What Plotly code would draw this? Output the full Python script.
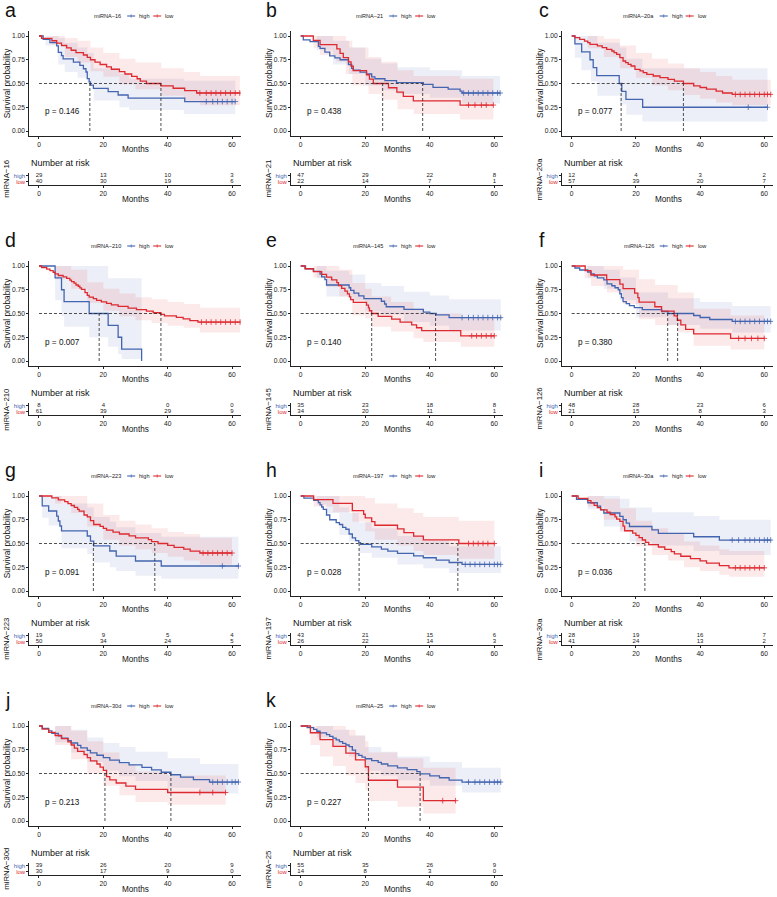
import plotly.graph_objects as go

W, H = 777, 897
BLUE = "#4365B0"
RED = "#DD2A30"
BLUE_F = "rgba(67,101,176,0.10)"
RED_F = "rgba(221,42,48,0.10)"
FONT = "Liberation Sans, Arial, sans-serif"

TIME_TICKS = [0, 20, 40, 60]
SURV_TICKS = [0, 0.25, 0.5, 0.75, 1.0]
SURV_LABELS = ["0.00", "0.25", "0.50", "0.75", "1.00"]

# ---------------- panel a : miRNA-16 ----------------
A_HI_T = [0, 1.3, 3.4, 5.5, 6, 7, 7.5, 10.7, 12.7, 13.8, 14.6, 15, 15.6, 16, 16.9, 21.5, 24.6, 27.7, 45.3]
A_HI_S = [1.0, 0.966, 0.931, 0.897, 0.828, 0.793, 0.759, 0.724, 0.690, 0.655, 0.621, 0.552, 0.517, 0.483, 0.448, 0.414, 0.379, 0.345, 0.310]
A_HI_END = 61
A_HI_CENS = [52, 54, 55.5, 57, 58.5, 60, 61]
A_HI_BT = [0, 2, 6, 8, 12, 15, 17, 25, 28, 45, 61]
A_HI_LO = [1.0, 0.90, 0.70, 0.62, 0.56, 0.50, 0.32, 0.25, 0.22, 0.18, 0.18]
A_HI_UP = [1.0, 1.0, 0.98, 0.93, 0.88, 0.82, 0.66, 0.60, 0.55, 0.53, 0.53]
A_LO_T = [0, 0.8, 4, 5.5, 7, 8.6, 10, 11.5, 13.8, 15, 16, 17.4, 19, 21, 22.5, 25, 26.7, 28.8, 30.5, 31.5, 33.4, 37.9, 41.7, 45.3, 49]
A_LO_S = [1.0, 0.975, 0.95, 0.925, 0.90, 0.875, 0.85, 0.825, 0.80, 0.775, 0.75, 0.725, 0.70, 0.675, 0.65, 0.625, 0.60, 0.575, 0.55, 0.525, 0.50, 0.475, 0.45, 0.425, 0.40]
A_LO_END = 62.4
A_LO_CENS = [50, 52, 53.5, 55, 56.5, 58, 59.5, 61, 62.4]
A_LO_BT = [0, 4, 8, 12, 16, 20, 25, 30, 38, 45, 50, 62.4]
A_LO_LO = [1.0, 0.91, 0.78, 0.72, 0.63, 0.57, 0.49, 0.44, 0.37, 0.32, 0.27, 0.27]
A_LO_UP = [1.0, 1.0, 0.98, 0.95, 0.88, 0.82, 0.76, 0.72, 0.66, 0.62, 0.58, 0.58]
A_RISK_HI = [29, 13, 10, 3]
A_RISK_LO = [40, 30, 19, 6]
A_MED = [15.8, 37.9]

# ---------------- panel b : miRNA-21 ----------------
B_HI_T = [0, 0.8, 2.9, 5.5, 6, 7.5, 9, 10.6, 12.2, 14.8, 15.8, 16.3, 18.4, 20.4, 22, 23, 26.1, 29.7, 38, 41, 45.7, 49.4, 50]
B_HI_S = [1.0, 0.96, 0.94, 0.89, 0.87, 0.83, 0.79, 0.77, 0.75, 0.70, 0.66, 0.64, 0.62, 0.60, 0.57, 0.55, 0.53, 0.51, 0.49, 0.46, 0.44, 0.42, 0.40]
B_HI_END = 61.8
B_HI_CENS = [50.5, 52, 53.5, 55, 56.5, 58, 59.5, 61, 61.8]
B_HI_BT = [0, 5, 10, 15, 20, 25, 30, 40, 50, 61.8]
B_HI_LO = [1.0, 0.85, 0.70, 0.60, 0.48, 0.43, 0.39, 0.35, 0.29, 0.28]
B_HI_UP = [1.0, 1.0, 0.95, 0.88, 0.76, 0.71, 0.67, 0.64, 0.58, 0.57]
B_LO_T = [0, 3.9, 6, 11.2, 12.2, 13.2, 14.8, 15.6, 16.3, 20.4, 21.3, 22.5, 27.2, 29.8, 31.8, 34.9, 49.4]
B_LO_S = [1.0, 0.955, 0.909, 0.864, 0.818, 0.773, 0.727, 0.682, 0.636, 0.591, 0.545, 0.50, 0.455, 0.41, 0.364, 0.318, 0.273]
B_LO_END = 59.7
B_LO_CENS = [52, 54, 56, 57.5, 59.7]
B_LO_BT = [0, 4, 6, 11, 14, 16, 21, 25, 30, 35, 49.4, 59.7]
B_LO_LO = [1.0, 0.87, 0.80, 0.73, 0.60, 0.48, 0.39, 0.33, 0.23, 0.18, 0.12, 0.12]
B_LO_UP = [1.0, 1.0, 1.0, 1.0, 0.95, 0.88, 0.78, 0.73, 0.64, 0.58, 0.55, 0.55]
B_RISK_HI = [47, 29, 22, 8]
B_RISK_LO = [22, 14, 7, 1]
B_MED = [37.8, 25.4]

# ---------------- panel c : miRNA-20a ----------------
C_HI_T = [0, 1, 3.1, 5.7, 6.7, 7.8, 14.8, 15.6, 16.9, 22.1]
C_HI_S = [1.0, 0.917, 0.833, 0.75, 0.667, 0.583, 0.50, 0.417, 0.333, 0.25]
C_HI_END = 61
C_HI_CENS = [55, 61]
C_HI_BT = [0, 1, 3, 6, 8, 15, 17, 22, 61]
C_HI_LO = [1.0, 0.77, 0.64, 0.52, 0.37, 0.28, 0.17, 0.10, 0.10]
C_HI_UP = [1.0, 1.0, 1.0, 1.0, 0.93, 0.88, 0.76, 0.66, 0.66]
C_LO_T = [0, 1, 2.5, 4, 5, 5.7, 8, 9.5, 10.9, 12.5, 13.2, 14, 15, 16, 16.8, 17.6, 18.5, 19.7, 21.3, 22.3, 23.4, 25.4, 27.5, 30, 32, 34.8, 38, 40, 42, 45, 47, 50]
C_LO_S = [1.0, 0.982, 0.965, 0.947, 0.93, 0.912, 0.895, 0.877, 0.86, 0.842, 0.825, 0.807, 0.772, 0.737, 0.719, 0.702, 0.684, 0.649, 0.632, 0.614, 0.596, 0.579, 0.561, 0.544, 0.526, 0.50, 0.475, 0.458, 0.44, 0.42, 0.40, 0.385]
C_LO_END = 62
C_LO_CENS = [51, 52.5, 54, 55.5, 57, 58.5, 60, 61, 62]
C_LO_BT = [0, 5, 10, 15, 20, 25, 30, 35, 40, 45, 50, 62]
C_LO_LO = [1.0, 0.87, 0.78, 0.66, 0.56, 0.48, 0.43, 0.38, 0.34, 0.30, 0.27, 0.27]
C_LO_UP = [1.0, 1.0, 0.97, 0.90, 0.82, 0.76, 0.71, 0.66, 0.62, 0.58, 0.54, 0.54]
C_RISK_HI = [12, 4, 3, 2]
C_RISK_LO = [57, 39, 20, 7]
C_MED = [15.4, 34.8]

# ---------------- panel d : miRNA-210 ----------------
D_HI_T = [0, 5, 7, 7.8, 15.6, 21.5, 24.6, 25.7, 31.9]
D_HI_S = [1.0, 0.875, 0.75, 0.625, 0.5, 0.375, 0.25, 0.125, 0.0]
D_HI_END = 31.9
D_HI_CENS = []
D_HI_BT = [0, 5, 7, 7.8, 15.6, 21.5, 24.6, 25.7, 31.9]
D_HI_LO = [1.0, 0.64, 0.47, 0.36, 0.25, 0.15, 0.07, 0.02, 0.02]
D_HI_UP = [1.0, 1.0, 1.0, 1.0, 1.0, 0.87, 0.87, 0.87, 0.87]
D_LO_T = [0, 0.8, 2.4, 3.4, 4.4, 5, 6, 7.5, 8.6, 9.6, 10.1, 10.9, 11.5, 12.2, 12.7, 13.2, 14.3, 15, 15.6, 16.9, 17.9, 19.4, 21, 22.5, 24.6, 27.7, 30.3, 33.4, 35.5, 37.9, 39, 42.7, 44.8, 46.9, 49.4]
D_LO_S = [1.0, 0.984, 0.967, 0.951, 0.934, 0.918, 0.90, 0.885, 0.869, 0.852, 0.836, 0.82, 0.80, 0.787, 0.77, 0.754, 0.72, 0.69, 0.672, 0.656, 0.639, 0.623, 0.607, 0.59, 0.574, 0.557, 0.541, 0.525, 0.508, 0.49, 0.475, 0.46, 0.443, 0.426, 0.41]
D_LO_END = 62.5
D_LO_CENS = [50.5, 52, 53.5, 55, 56.5, 58, 59.5, 61, 62.5]
D_LO_BT = [0, 5, 10, 15, 20, 25, 30, 35, 40, 45, 50, 62.5]
D_LO_LO = [1.0, 0.86, 0.76, 0.61, 0.53, 0.47, 0.43, 0.40, 0.37, 0.35, 0.30, 0.30]
D_LO_UP = [1.0, 1.0, 0.96, 0.83, 0.76, 0.71, 0.67, 0.65, 0.62, 0.60, 0.56, 0.56]
D_RISK_HI = [8, 4, 0, 0]
D_RISK_LO = [61, 39, 29, 9]
D_MED = [18.7, 37.9]

# ---------------- panel e : miRNA-145 ----------------
E_HI_T = [0, 1.5, 4, 6, 6.5, 7.5, 8, 15, 15.5, 16.5, 18, 19.6, 25, 26, 26.5, 32, 38, 40, 42, 46]
E_HI_S = [1.0, 0.971, 0.943, 0.914, 0.886, 0.857, 0.80, 0.771, 0.743, 0.714, 0.686, 0.657, 0.629, 0.60, 0.571, 0.543, 0.514, 0.50, 0.486, 0.457]
E_HI_END = 62
E_HI_CENS = [50, 52, 53.5, 55, 56.5, 58, 59.5, 61, 62]
E_HI_BT = [0, 5, 8, 15, 20, 25, 32, 40, 46, 62]
E_HI_LO = [1.0, 0.87, 0.68, 0.64, 0.52, 0.49, 0.41, 0.37, 0.32, 0.32]
E_HI_UP = [1.0, 1.0, 0.95, 0.91, 0.82, 0.79, 0.73, 0.69, 0.65, 0.65]
E_LO_T = [0, 1.3, 3.9, 6.5, 8, 9.6, 11.2, 11.7, 12.7, 13.7, 14.5, 15.1, 15.5, 16.3, 20.4, 21, 21.3, 22, 24, 28.2, 30.8, 34.4, 35.9, 37.5, 49.6]
E_LO_S = [1.0, 0.971, 0.941, 0.912, 0.882, 0.853, 0.824, 0.794, 0.765, 0.735, 0.706, 0.676, 0.647, 0.618, 0.588, 0.559, 0.529, 0.50, 0.47, 0.44, 0.41, 0.38, 0.35, 0.32, 0.265]
E_LO_END = 60
E_LO_CENS = [53, 54.5, 56, 57.5, 59, 60]
E_LO_BT = [0, 4, 8, 12, 16, 20, 22, 28, 35, 38, 49.6, 60]
E_LO_LO = [1.0, 0.88, 0.78, 0.68, 0.48, 0.45, 0.36, 0.31, 0.24, 0.20, 0.15, 0.15]
E_LO_UP = [1.0, 1.0, 1.0, 0.96, 0.82, 0.76, 0.68, 0.62, 0.55, 0.50, 0.45, 0.45]
E_RISK_HI = [35, 23, 18, 8]
E_RISK_LO = [34, 20, 11, 1]
E_MED = [41.8, 22.0]

# ---------------- panel f : miRNA-126 ----------------
F_HI_T = [0, 1, 2.5, 5, 6, 7, 8, 10, 11, 12.5, 13.5, 14.5, 15, 15.5, 16, 17, 18, 19.5, 22, 28, 30, 38, 40, 43, 50]
F_HI_S = [1.0, 0.979, 0.958, 0.937, 0.917, 0.896, 0.875, 0.854, 0.812, 0.792, 0.771, 0.75, 0.708, 0.667, 0.625, 0.604, 0.583, 0.562, 0.541, 0.521, 0.50, 0.479, 0.458, 0.437, 0.417]
F_HI_END = 62
F_HI_CENS = [51, 52.5, 54, 55.5, 57, 58.5, 60, 61, 62]
F_HI_BT = [0, 5, 10, 15, 20, 30, 40, 50, 62]
F_HI_LO = [1.0, 0.88, 0.76, 0.64, 0.46, 0.38, 0.34, 0.30, 0.30]
F_HI_UP = [1.0, 1.0, 0.96, 0.88, 0.72, 0.66, 0.62, 0.58, 0.58]
F_LO_T = [0, 4.2, 6, 10.9, 15, 16, 19.6, 20.6, 21, 25.9, 28, 31.9, 32.9, 34, 35.5, 38, 49.5]
F_LO_S = [1.0, 0.952, 0.905, 0.857, 0.81, 0.762, 0.714, 0.667, 0.619, 0.571, 0.524, 0.476, 0.429, 0.381, 0.333, 0.286, 0.238]
F_LO_END = 60
F_LO_CENS = [52, 54, 56, 58, 60]
F_LO_BT = [0, 4, 6, 11, 16, 21, 26, 33, 38, 49.5, 60]
F_LO_LO = [1.0, 0.87, 0.79, 0.72, 0.60, 0.44, 0.38, 0.30, 0.16, 0.12, 0.12]
F_LO_UP = [1.0, 1.0, 1.0, 1.0, 0.96, 0.86, 0.80, 0.72, 0.55, 0.48, 0.48]
F_RISK_HI = [48, 28, 23, 6]
F_RISK_LO = [21, 15, 8, 3]
F_MED = [29.9, 33.0]

# ---------------- panel g : miRNA-223 ----------------
G_HI_T = [0, 1, 3, 5.5, 6, 6.5, 7, 15, 16, 17, 22, 24, 30, 38]
G_HI_S = [1.0, 0.895, 0.842, 0.789, 0.737, 0.684, 0.632, 0.579, 0.526, 0.474, 0.421, 0.368, 0.316, 0.263]
G_HI_END = 62
G_HI_CENS = [57, 62]
G_HI_BT = [0, 1, 3, 7, 15, 17, 22, 24, 30, 38, 62]
G_HI_LO = [1.0, 0.77, 0.69, 0.45, 0.39, 0.30, 0.25, 0.21, 0.16, 0.13, 0.13]
G_HI_UP = [1.0, 1.0, 1.0, 0.92, 0.88, 0.78, 0.73, 0.67, 0.61, 0.57, 0.57]
G_LO_T = [0, 4, 6, 8, 9, 10, 11, 12, 12.5, 14, 15, 16, 17, 19, 20, 21, 23, 25, 28, 30, 34, 35, 37, 40, 42, 45, 47, 50]
G_LO_S = [1.0, 0.98, 0.96, 0.94, 0.92, 0.90, 0.88, 0.86, 0.84, 0.80, 0.78, 0.74, 0.70, 0.68, 0.66, 0.64, 0.62, 0.60, 0.58, 0.56, 0.54, 0.52, 0.50, 0.48, 0.46, 0.44, 0.42, 0.40]
G_LO_END = 60
G_LO_CENS = [51, 52.5, 54, 55.5, 57, 58.5, 60]
G_LO_BT = [0, 5, 10, 15, 20, 25, 30, 35, 40, 45, 50, 60]
G_LO_LO = [1.0, 0.92, 0.82, 0.68, 0.54, 0.48, 0.44, 0.40, 0.36, 0.32, 0.28, 0.28]
G_LO_UP = [1.0, 1.0, 1.0, 0.92, 0.80, 0.74, 0.70, 0.66, 0.62, 0.60, 0.56, 0.56]
G_RISK_HI = [19, 9, 5, 4]
G_RISK_LO = [50, 34, 24, 5]
G_MED = [16.9, 36.0]

# ---------------- panel h : miRNA-197 ----------------
H_HI_T = [0, 1, 4, 5.5, 6, 6.5, 7, 8, 9, 11, 12, 13, 14, 15, 16, 17, 18, 18.5, 22, 25, 27, 30, 35, 38, 42, 46, 50]
H_HI_S = [1.0, 0.977, 0.953, 0.93, 0.907, 0.884, 0.86, 0.80, 0.75, 0.72, 0.70, 0.67, 0.65, 0.60, 0.56, 0.53, 0.51, 0.49, 0.465, 0.44, 0.42, 0.395, 0.37, 0.35, 0.325, 0.30, 0.28]
H_HI_END = 62
H_HI_CENS = [51, 52.5, 54, 55.5, 57, 58.5, 60, 61, 62]
H_HI_BT = [0, 5, 8, 12, 15, 18, 22, 30, 38, 46, 62]
H_HI_LO = [1.0, 0.91, 0.82, 0.59, 0.52, 0.40, 0.35, 0.28, 0.24, 0.19, 0.17]
H_HI_UP = [1.0, 1.0, 1.0, 0.88, 0.82, 0.72, 0.66, 0.58, 0.53, 0.47, 0.45]
H_LO_T = [0, 4, 10, 16, 19.5, 20, 22, 23, 30, 32, 35, 38, 49]
H_LO_S = [1.0, 0.962, 0.923, 0.846, 0.808, 0.769, 0.731, 0.692, 0.654, 0.615, 0.577, 0.538, 0.50]
H_LO_END = 60
H_LO_CENS = [52, 53.5, 55, 56.5, 58, 60]
H_LO_BT = [0, 4, 10, 16, 20, 23, 30, 35, 38, 49, 60]
H_LO_LO = [1.0, 0.89, 0.83, 0.73, 0.63, 0.54, 0.48, 0.42, 0.38, 0.34, 0.34]
H_LO_UP = [1.0, 1.0, 1.0, 1.0, 0.98, 0.92, 0.87, 0.82, 0.78, 0.74, 0.74]
H_RISK_HI = [43, 21, 15, 6]
H_RISK_LO = [26, 22, 14, 3]
H_MED = [18.1, 48.7]

# ---------------- panel i : miRNA-30a ----------------
I_HI_T = [0, 1.5, 5, 8, 9, 10, 15, 16, 17, 18, 25, 27, 38, 46]
I_HI_S = [1.0, 0.964, 0.929, 0.893, 0.857, 0.821, 0.786, 0.75, 0.714, 0.679, 0.643, 0.607, 0.571, 0.536]
I_HI_END = 62
I_HI_CENS = [50, 52, 54, 55.5, 57, 58.5, 60, 61, 62]
I_HI_BT = [0, 5, 10, 15, 18, 25, 38, 46, 62]
I_HI_LO = [1.0, 0.86, 0.68, 0.64, 0.52, 0.48, 0.42, 0.38, 0.38]
I_HI_UP = [1.0, 1.0, 1.0, 0.97, 0.88, 0.83, 0.79, 0.75, 0.75]
I_LO_T = [0, 2, 5, 6, 7, 8, 9, 11, 12, 13.5, 14, 15, 16, 16.5, 19, 20, 21, 22, 23, 24, 27, 29, 31, 32, 34, 37, 40, 42, 46, 49]
I_LO_S = [1.0, 0.976, 0.951, 0.927, 0.902, 0.878, 0.854, 0.829, 0.805, 0.78, 0.756, 0.732, 0.683, 0.634, 0.61, 0.585, 0.561, 0.537, 0.512, 0.488, 0.463, 0.439, 0.415, 0.39, 0.366, 0.341, 0.317, 0.293, 0.268, 0.244]
I_LO_END = 60
I_LO_CENS = [51, 52.5, 54, 55.5, 57, 58.5, 60]
I_LO_BT = [0, 5, 10, 15, 20, 25, 30, 35, 40, 46, 49, 60]
I_LO_LO = [1.0, 0.89, 0.75, 0.62, 0.47, 0.38, 0.32, 0.25, 0.21, 0.17, 0.15, 0.15]
I_LO_UP = [1.0, 1.0, 0.97, 0.87, 0.74, 0.66, 0.60, 0.52, 0.48, 0.44, 0.42, 0.42]
I_RISK_HI = [28, 19, 16, 7]
I_RISK_LO = [41, 24, 13, 2]
I_MED = [22.8]

# ---------------- panel j : miRNA-30d ----------------
J_HI_T = [0, 1, 3, 4, 6, 7, 9, 10, 12, 13, 15, 16, 18, 20, 22, 25, 28, 32, 35, 38, 41, 44, 48, 53]
J_HI_S = [1.0, 0.974, 0.949, 0.923, 0.897, 0.872, 0.846, 0.821, 0.795, 0.769, 0.744, 0.718, 0.692, 0.667, 0.641, 0.615, 0.59, 0.564, 0.538, 0.513, 0.487, 0.462, 0.436, 0.41]
J_HI_END = 62
J_HI_CENS = [54, 55.5, 57, 58.5, 60, 61, 62]
J_HI_BT = [0, 5, 10, 15, 20, 25, 30, 40, 50, 62]
J_HI_LO = [1.0, 0.83, 0.72, 0.62, 0.53, 0.47, 0.42, 0.35, 0.29, 0.27]
J_HI_UP = [1.0, 1.0, 0.96, 0.88, 0.82, 0.78, 0.73, 0.66, 0.60, 0.58]
J_LO_T = [0, 1, 3, 5, 7, 9, 10, 11, 12, 14, 15, 16, 18, 19, 20, 21, 22, 24, 27, 30, 40]
J_LO_S = [1.0, 0.967, 0.933, 0.90, 0.867, 0.833, 0.80, 0.767, 0.733, 0.70, 0.667, 0.633, 0.60, 0.567, 0.533, 0.467, 0.433, 0.40, 0.367, 0.333, 0.30]
J_LO_END = 58
J_LO_CENS = [50, 54, 58]
J_LO_BT = [0, 5, 10, 15, 20, 25, 30, 40, 58]
J_LO_LO = [1.0, 0.80, 0.65, 0.50, 0.37, 0.27, 0.20, 0.17, 0.17]
J_LO_UP = [1.0, 1.0, 0.95, 0.84, 0.72, 0.60, 0.52, 0.48, 0.48]
J_RISK_HI = [39, 26, 20, 9]
J_RISK_LO = [30, 17, 9, 0]
J_MED = [41.0, 20.5]

# ---------------- panel k : miRNA-25 ----------------
K_HI_T = [0, 2, 4, 5, 6, 8, 9, 10, 11, 12, 13, 14, 15, 16, 17, 18, 19, 20, 22, 24, 25, 27, 30, 33, 36, 37, 40, 43, 46, 50]
K_HI_S = [1.0, 0.982, 0.964, 0.945, 0.927, 0.909, 0.891, 0.873, 0.855, 0.836, 0.818, 0.80, 0.782, 0.745, 0.709, 0.691, 0.673, 0.655, 0.636, 0.618, 0.60, 0.58, 0.56, 0.54, 0.52, 0.495, 0.475, 0.455, 0.43, 0.41]
K_HI_END = 62
K_HI_CENS = [52, 54, 55.5, 57, 58.5, 60, 61, 62]
K_HI_BT = [0, 5, 10, 15, 20, 25, 30, 40, 50, 62]
K_HI_LO = [1.0, 0.88, 0.78, 0.68, 0.53, 0.48, 0.43, 0.37, 0.30, 0.28]
K_HI_UP = [1.0, 1.0, 0.96, 0.90, 0.78, 0.73, 0.68, 0.62, 0.56, 0.54]
K_LO_T = [0, 3, 6, 10, 14, 17, 20, 21, 30, 38]
K_LO_S = [1.0, 0.929, 0.857, 0.786, 0.714, 0.643, 0.571, 0.429, 0.357, 0.214]
K_LO_END = 48
K_LO_CENS = [44, 48]
K_LO_BT = [0, 3, 6, 10, 14, 17, 20, 21, 30, 38, 48]
K_LO_LO = [1.0, 0.80, 0.68, 0.58, 0.48, 0.40, 0.33, 0.21, 0.15, 0.08, 0.08]
K_LO_UP = [1.0, 1.0, 1.0, 1.0, 0.96, 0.90, 0.84, 0.72, 0.66, 0.56, 0.56]
K_RISK_HI = [55, 35, 26, 9]
K_RISK_LO = [14, 8, 3, 0]
K_MED = [37.0, 21.0]

LETTERS = ["a", "b", "c", "d", "e", "f", "g", "h", "i", "j", "k"]
GENES = ["miRNA\u221216", "miRNA\u221221", "miRNA\u221220a", "miRNA\u2212210", "miRNA\u2212145",
         "miRNA\u2212126", "miRNA\u2212223", "miRNA\u2212197", "miRNA\u221230a", "miRNA\u221230d",
         "miRNA\u221225"]
PVALUES = ["0.146", "0.438", "0.077", "0.007", "0.140", "0.380", "0.091", "0.028", "0.036", "0.213", "0.227"]
GROUPS = ["high", "low"]

G = globals()
PANELS = []
for L in "ABCDEFGHIJK":
    PANELS.append(dict(
        hi=[G[f"{L}_HI_{k}"] for k in ("T", "S", "END", "CENS", "BT", "LO", "UP")],
        lo=[G[f"{L}_LO_{k}"] for k in ("T", "S", "END", "CENS", "BT", "LO", "UP")],
        risk_hi=G[f"{L}_RISK_HI"], risk_lo=G[f"{L}_RISK_LO"], med=G[f"{L}_MED"]))

# ---------------- layout geometry (pixels) ----------------
COL_ZERO = [39.0, 300.7, 571.7]
COL_PPM = [3.217, 3.227, 3.21]
XR = [-3.0, 62.8]
ROW_STEP = 230.0


def fx(px):
    return px / W


def fy(py):
    return 1 - py / H


def surv_at(T, S, t):
    v = S[0]
    for ti, si in zip(T, S):
        if ti <= t:
            v = si
    return v


def note(text, x, y, size, xanchor="center", yanchor="middle", color="#111111", angle=0,
         xref="paper", yref="paper"):
    return dict(text=text, x=x, y=y, xref=xref, yref=yref, xanchor=xanchor, yanchor=yanchor,
                textangle=angle, showarrow=False, font=dict(family=FONT, size=size, color=color))


fig = go.Figure()
layout = {}
ann = []
shapes = []
axis_font = dict(family=FONT, size=6.7, color="#222222")
axis_style = dict(showline=True, linecolor="#222222", linewidth=0.9, ticks="outside", ticklen=2,
                  tickwidth=0.7, tickcolor="#222222", showgrid=False, zeroline=False)

for i, P in enumerate(PANELS):
    r, c = divmod(i, 3)
    off = ROW_STEP * r
    left = COL_ZERO[c] + XR[0] * COL_PPM[c]
    right = COL_ZERO[c] + XR[1] * COL_PPM[c]
    k = 2 * i + 1
    xm, ym = f"x{k}", f"y{k}"
    xr_, yr_ = f"x{k+1}", f"y{k+1}"
    common_x = dict(axis_style, range=XR, tickvals=TIME_TICKS, tickfont=axis_font,
                    domain=[fx(left), fx(right)])
    layout[f"xaxis{k}"] = dict(common_x, anchor=ym)
    layout[f"yaxis{k}"] = dict(axis_style, range=[-0.05, 1.05], tickvals=SURV_TICKS, ticktext=SURV_LABELS,
                               tickfont=axis_font, anchor=xm, domain=[fy(135.75 + off), fy(31.25 + off)])
    layout[f"xaxis{k+1}"] = dict(common_x, anchor=yr_)
    layout[f"yaxis{k+1}"] = dict(axis_style, range=[0.5, 2.5], tickvals=[1, 2],
                                 ticktext=[f"<span style='color:{RED}'>{GROUPS[1]}</span>",
                                           f"<span style='color:{BLUE}'>{GROUPS[0]}</span>"],
                                 tickfont=dict(family=FONT, size=6.0), anchor=xr_,
                                 domain=[fy(184.8 + off), fy(173 + off)])

    for g, col, fcol in ((P["hi"], BLUE, BLUE_F), (P["lo"], RED, RED_F)):
        T, S, END, CENS, BT, LO, UP = g
        fig.add_trace(go.Scatter(x=BT, y=LO, xaxis=xm, yaxis=ym, mode="lines", line_shape="hv",
                                 line=dict(width=0), hoverinfo="skip", showlegend=False))
        fig.add_trace(go.Scatter(x=BT, y=UP, xaxis=xm, yaxis=ym, mode="lines", line_shape="hv",
                                 line=dict(width=0), fill="tonexty", fillcolor=fcol,
                                 hoverinfo="skip", showlegend=False))
    for g, col in ((P["hi"], BLUE), (P["lo"], RED)):
        T, S, END, CENS, BT, LO, UP = g
        fig.add_trace(go.Scatter(x=list(T) + [END], y=list(S) + [S[-1]], xaxis=xm, yaxis=ym,
                                 mode="lines", line_shape="hv", line=dict(color=col, width=1.3),
                                 showlegend=False))
        if CENS:
            fig.add_trace(go.Scatter(x=CENS, y=[surv_at(T, S, t) for t in CENS], xaxis=xm, yaxis=ym,
                                     mode="markers", marker=dict(symbol="cross-thin", size=4,
                                                                 line=dict(color=col, width=0.8)),
                                     showlegend=False))
    med = P["med"]
    fig.add_trace(go.Scatter(x=[0, max(med)], y=[0.5, 0.5], xaxis=xm, yaxis=ym, mode="lines",
                             line=dict(color="#222222", width=0.8, dash="3px,2px"), showlegend=False))
    for m in med:
        fig.add_trace(go.Scatter(x=[m, m], y=[0, 0.5], xaxis=xm, yaxis=ym, mode="lines",
                                 line=dict(color="#222222", width=0.8, dash="3px,2px"), showlegend=False))
    fig.add_trace(go.Scatter(x=TIME_TICKS, y=[2] * 4, text=[str(v) for v in P["risk_hi"]], mode="text",
                             xaxis=xr_, yaxis=yr_, textfont=dict(family=FONT, size=6.0, color="#222222"),
                             showlegend=False))
    fig.add_trace(go.Scatter(x=TIME_TICKS, y=[1] * 4, text=[str(v) for v in P["risk_lo"]], mode="text",
                             xaxis=xr_, yaxis=yr_, textfont=dict(family=FONT, size=6.0, color="#222222"),
                             showlegend=False))

    ann.append(note(f"p = {PVALUES[i]}", 1.3, 0.2, 8.2, xanchor="left", xref=xm, yref=ym))
    ann.append(note(LETTERS[i], fx([3.0, 263.5, 536.5][c]), fy(9.5 + off), 19.5, xanchor="left"))
    ann.append(note("Survival probability", fx(left - 22.5), fy(83.5 + off), 8.3, angle=-90))
    mid = COL_ZERO[c] + 30 * COL_PPM[c]
    ann.append(note("Months", fx(mid), fy(149 + off), 8.2))
    ann.append(note("Months", fx(mid), fy(199 + off), 8.2))
    ann.append(note("Number at risk", fx(left), fy(163 + off), 9.0, xanchor="left"))
    ann.append(note(GENES[i], fx(left - 23.5), fy(179 + off), 7.8, angle=-90))
    cx = (left + right) / 2
    ly = 16 + off
    ann.append(note(GENES[i], fx(cx - 12), fy(ly), 5.6, xanchor="right", color="#222222"))
    for dx0, col, lab in ((-8, BLUE, GROUPS[0]), (18, RED, GROUPS[1])):
        shapes.append(dict(type="line", xref="paper", yref="paper", x0=fx(cx + dx0), x1=fx(cx + dx0 + 8),
                           y0=fy(ly), y1=fy(ly), line=dict(color=col, width=1.1)))
        shapes.append(dict(type="line", xref="paper", yref="paper", x0=fx(cx + dx0 + 4), x1=fx(cx + dx0 + 4),
                           y0=fy(ly - 1.6), y1=fy(ly + 1.6), line=dict(color=col, width=0.7)))
        ann.append(note(lab, fx(cx + dx0 + 10), fy(ly), 5.6, xanchor="left", color="#222222"))

layout["xaxis"] = layout.pop("xaxis1")
layout["yaxis"] = layout.pop("yaxis1")
fig.update_layout(**layout)
fig.update_layout(width=W, height=H, margin=dict(l=0, r=0, t=0, b=0), paper_bgcolor="white",
                  plot_bgcolor="white", showlegend=False, annotations=ann, shapes=shapes,
                  font=dict(family=FONT))
fig.write_html("out.html", config={"displayModeBar": False},
               post_script="document.body.style.margin='0px';")
